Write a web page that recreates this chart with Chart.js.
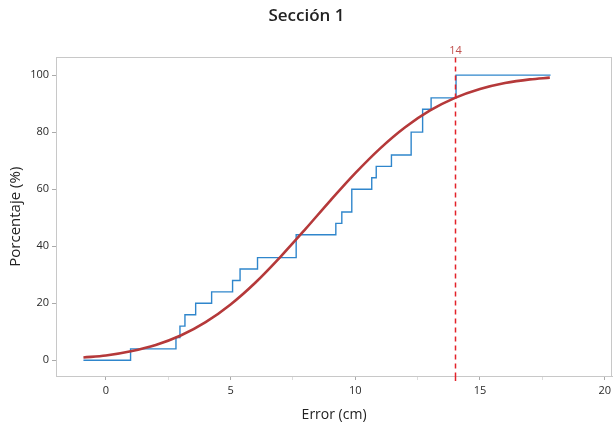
<!DOCTYPE html>
<html>
<head>
<meta charset="utf-8">
<script src="https://cdn.jsdelivr.net/npm/chart.js@4.4.0/dist/chart.umd.min.js"></script>
<style>
  html, body { margin: 0; padding: 0; background: #fff; }
  #wrap { width: 615px; height: 423px; }
</style>
</head>
<body>
<div id="wrap"><canvas id="chart"></canvas></div>
<script>
var stepX = [-0.9, 0.99, 2.81, 2.97, 3.17, 3.6, 4.24, 5.08, 5.38, 6.08, 7.63, 9.22, 9.46, 9.86, 10.66, 10.84, 11.45, 12.24, 12.7, 13.04, 14.04, 17.83];
var stepY = [0, 4, 8, 12, 16, 20, 24, 28, 32, 36, 44, 48, 52, 60, 64, 68, 72, 80, 88, 92, 100, 100];

// Fitted curve, values read at each x
var curveX = [-0.9, 0, 1, 2, 3, 4, 5, 6, 7, 8, 9, 10, 11, 12, 13, 14, 15, 16, 17, 17.8];
var curveY = [1.0, 1.7, 3.2, 5.4, 8.7, 13.4, 19.6, 27.3, 36.3, 46.0, 56.0, 65.6, 74.3, 81.7, 87.6, 92.0, 95.1, 97.2, 98.5, 99.1];

// Tick labels
var xTicks = [0, 5, 10, 15, 20];
var yTicks = [0, 20, 40, 60, 80, 100];

// Reference line
var refValue = 14;

var axisGray = '#c8c8c8';
var textColor = '#2a2a2a';
var fontFamily = "'Open Sans', 'Noto Sans', sans-serif";

// Draws frame, reference line and its label
var extras = {
  id: 'extras',
  afterDatasetsDraw: function(chart) {
    var ctx = chart.ctx;
    var a = chart.chartArea;
    var xs = chart.scales.x;
    ctx.save();
    ctx.strokeStyle = axisGray;
    ctx.lineWidth = 1;
    ctx.strokeRect(Math.round(a.left) + 0.5, Math.round(a.top) + 0.5, Math.round(a.right - a.left) - 1, Math.round(a.bottom - a.top));

    var px = Math.round(xs.getPixelForValue(refValue)) + 0.5;
    ctx.strokeStyle = '#e3222a';
    ctx.lineWidth = 1.5;
    ctx.setLineDash([5, 4]);
    ctx.beginPath();
    ctx.moveTo(px, a.top);
    ctx.lineTo(px, a.bottom);
    ctx.stroke();
    ctx.setLineDash([]);
    ctx.beginPath();
    ctx.moveTo(px, a.bottom);
    ctx.lineTo(px, a.bottom + 5);
    ctx.stroke();

    ctx.fillStyle = '#c0504d';
    ctx.font = '11px ' + fontFamily;
    ctx.textAlign = 'center';
    ctx.textBaseline = 'bottom';
    ctx.fillText(String(refValue), px, a.top - 1);
    ctx.restore();
  }
};

var ctx = document.getElementById('chart').getContext('2d');
var chart = new Chart(ctx, {
  type: 'line',
  data: {
    datasets: [
      {
        label: 'Ajuste',
        data: curveX.map(function(x, i) { return { x: x, y: curveY[i] }; }),
        borderColor: '#b5393a',
        borderWidth: 2.6,
        pointRadius: 0,
        cubicInterpolationMode: 'monotone',
        fill: false
      },
      {
        label: 'Datos',
        data: stepX.map(function(x, i) { return { x: x, y: stepY[i] }; }),
        borderColor: '#2f86cc',
        borderWidth: 1.4,
        pointRadius: 0,
        stepped: 'before',
        fill: false
      }
    ]
  },
  options: {
    responsive: true,
    maintainAspectRatio: false,
    animation: false,
    layout: { padding: { left: 0, right: 2, top: 0, bottom: 0 } },
    plugins: {
      legend: { display: false },
      tooltip: { enabled: false },
      title: {
        display: true,
        text: 'Sección 1',
        color: '#222',
        font: { family: fontFamily, size: 17, weight: '600' },
        padding: { top: 6, bottom: 31 }
      }
    },
    scales: {
      x: {
        type: 'linear',
        min: -2,
        max: 20.3,
        afterBuildTicks: function(scale) {
          var t = [];
          for (var v = 0; v <= 20; v += 2.5) t.push({ value: v });
          scale.ticks = t;
        },
        afterFit: function(scale) { scale.height = 47; },
        border: { display: true, color: axisGray },
        grid: {
          drawOnChartArea: false,
          drawTicks: true,
          tickLength: 4,
          color: function(c) {
            return xTicks.indexOf(c.tick.value) >= 0 ? '#aaaaaa' : '#dddddd';
          }
        },
        ticks: {
          color: textColor,
          font: { family: fontFamily, size: 11 },
          padding: 4,
          maxRotation: 0,
          autoSkip: false,
          callback: function(v) { return xTicks.indexOf(v) >= 0 ? String(v) : ''; }
        },
        title: {
          display: true,
          text: 'Error (cm)',
          color: '#222',
          font: { family: fontFamily, size: 14 },
          padding: { top: 4, bottom: 0 }
        }
      },
      y: {
        type: 'linear',
        min: -5.5,
        max: 106.2,
        afterBuildTicks: function(scale) {
          scale.ticks = yTicks.map(function(v) { return { value: v }; });
        },
        afterFit: function(scale) { scale.width = 56; },
        border: { display: true, color: axisGray },
        grid: {
          drawOnChartArea: false,
          drawTicks: true,
          tickLength: 4,
          color: '#aaaaaa'
        },
        ticks: {
          color: textColor,
          font: { family: fontFamily, size: 11 },
          padding: 3
        },
        title: {
          display: true,
          text: 'Porcentaje (%)',
          color: '#222',
          font: { family: fontFamily, size: 15 },
          padding: { top: 7, bottom: 4 }
        }
      }
    }
  },
  plugins: [extras]
});
</script>
</body>
</html>
